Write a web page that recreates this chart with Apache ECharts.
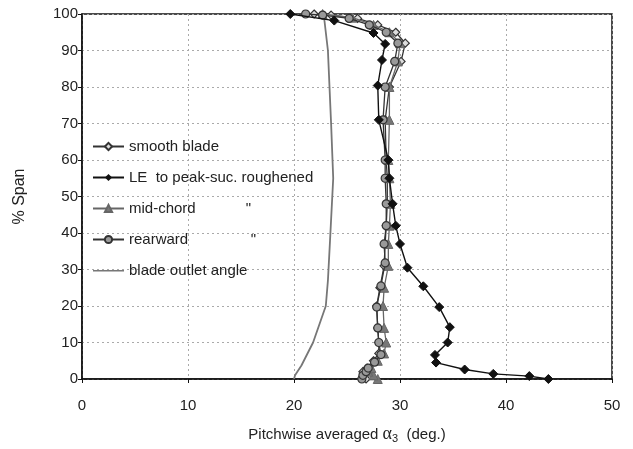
<!DOCTYPE html>
<html><head><meta charset="utf-8">
<script src="https://cdn.jsdelivr.net/npm/echarts@6/dist/echarts.min.js"></script>
<style>html,body{margin:0;padding:0;background:#fff}#c{width:633px;height:449px}</style>
</head><body><div id="c"></div>
<script>
// ---- data (angle in deg., span in %) ----
var xTicks = [0, 10, 20, 30, 40, 50];
var yTicks = [0, 10, 20, 30, 40, 50, 60, 70, 80, 90, 100];

var smoothSpan  = [0, 1, 2, 3, 5, 7, 10, 14, 20, 25, 31, 37, 42, 48, 55, 60, 71, 80, 87, 92, 95, 97, 98.8, 99.7, 100];
var smoothAngle = [26.8, 26.6, 26.5, 26.9, 27.5, 28.0, 28.0, 27.9, 27.8, 28.1, 28.5, 28.6, 28.7, 28.8, 28.8, 28.7, 28.6, 29.0, 30.1, 30.5, 29.6, 27.9, 26.0, 23.5, 21.9];

var leSpan  = [0, 0.8, 1.4, 2.6, 4.5, 6.6, 10, 14.2, 19.7, 25.4, 30.5, 37, 42, 48, 55, 60, 71, 80.4, 87.4, 91.8, 94.8, 98.2, 100];
var leAngle = [44.0, 42.2, 38.8, 36.1, 33.4, 33.3, 34.5, 34.7, 33.7, 32.2, 30.7, 30.0, 29.6, 29.3, 29.0, 28.9, 28.0, 27.9, 28.3, 28.6, 27.5, 23.8, 19.65];

var midSpan  = [0, 1, 2, 3, 5, 7, 10, 14, 20, 25, 31, 37, 42, 48, 55, 60, 71, 80, 87, 92, 95, 97, 99, 100];
var midAngle = [27.9, 27.5, 27.0, 27.3, 27.9, 28.5, 28.7, 28.5, 28.4, 28.5, 28.9, 28.9, 29.0, 29.1, 29.0, 28.9, 29.0, 29.0, 29.8, 30.0, 29.0, 27.5, 25.5, 22.7];

var rearSpan  = [0, 1, 2, 3, 4.6, 6.7, 10, 14, 19.7, 25.5, 31.8, 37, 42, 48, 55, 60, 71, 80, 87, 92, 95, 97, 98.8, 99.7, 100];
var rearAngle = [26.4, 26.5, 26.8, 27.0, 27.6, 28.2, 28.0, 27.9, 27.8, 28.2, 28.6, 28.5, 28.7, 28.7, 28.6, 28.6, 28.4, 28.6, 29.5, 29.8, 28.7, 27.1, 25.2, 22.7, 21.1];

var outletSpan  = [0, 1, 3.7, 10, 20, 27, 38, 55, 70, 90, 100];
var outletAngle = [20.0, 20.1, 20.7, 21.8, 23.0, 23.2, 23.4, 23.7, 23.5, 23.2, 22.8];

var names = ['smooth blade', 'LE  to peak-suc. roughened', 'mid-chord', 'rearward', 'blade outlet angle'];

function pairs(a, s) { return a.map(function (v, i) { return [v, s[i]]; }); }

var lineIcon = 'path://M0,0L0.05,0L0.05,0.05Z M0,4L32,4L32,5.6L0,5.6Z M0,9L0.05,9L0.05,8.95Z';

var chart = echarts.init(document.getElementById('c'), null, {renderer: 'canvas'});
var FONT = 'Liberation Sans';
chart.setOption({
  animation: false,
  backgroundColor: '#fff',
  grid: {left: 82, right: 21, top: 14, bottom: 66, show: true, borderColor: '#111', borderWidth: 1.5, backgroundColor: 'transparent'},
  legend: {
    orient: 'vertical', left: 87, top: 134, itemGap: 16, itemWidth: 31, itemHeight: 9,
    textStyle: {fontFamily: FONT, fontSize: 15, color: '#222'},
    data: [names[0], names[1], names[2], names[3], {name: names[4], icon: lineIcon, itemStyle: {color: '#777'}}],
    formatter: function (n) {
      if (n === 'mid-chord') return 'mid-chord            "';
      if (n === 'rearward') return 'rearward               "';
      return n;
    }
  },
  xAxis: {
    type: 'value', min: 0, max: 50, interval: 10,
    name: 'Pitchwise averaged {g|α}{s|3}  (deg.)', nameLocation: 'middle', nameGap: 46,
    nameTextStyle: {fontFamily: FONT, fontSize: 15, color: '#222',
      rich: {g: {fontFamily: 'Liberation Serif', fontSize: 18, color: '#222'},
             s: {fontFamily: FONT, fontSize: 11, color: '#222', padding: [8, 0, 0, 0]}}},
    axisLine: {show: true, lineStyle: {color: '#111', width: 1.5}},
    axisTick: {show: true, length: 4, lineStyle: {color: '#111'}},
    axisLabel: {fontFamily: FONT, fontSize: 15, color: '#222', margin: 19},
    splitLine: {show: true, lineStyle: {color: '#aaa', type: [2, 3], width: 1}}
  },
  yAxis: {
    type: 'value', min: 0, max: 100, interval: 10,
    name: '% Span', nameLocation: 'middle', nameGap: 54, nameRotate: 90,
    nameTextStyle: {fontFamily: FONT, fontSize: 16, color: '#222'},
    axisLine: {show: true, lineStyle: {color: '#111', width: 1.5}},
    axisTick: {show: true, length: 4, lineStyle: {color: '#111'}},
    axisLabel: {fontFamily: FONT, fontSize: 15, color: '#222', margin: 4},
    splitLine: {show: true, lineStyle: {color: '#aaa', type: [2, 3], width: 1}}
  },
  series: [
    {name: names[4], type: 'line', data: pairs(outletAngle, outletSpan), showSymbol: false, symbol: 'none',
     lineStyle: {color: '#777', width: 1.8}, itemStyle: {color: '#777'}, z: 1},
    {name: names[0], type: 'line', data: pairs(smoothAngle, smoothSpan), symbol: 'diamond', symbolSize: 8,
     lineStyle: {color: '#333', width: 1.3}, itemStyle: {color: '#ddd', borderColor: '#333', borderWidth: 1.2}, z: 2},
    {name: names[2], type: 'line', data: pairs(midAngle, midSpan), symbol: 'triangle', symbolSize: 9,
     lineStyle: {color: '#666', width: 1.3}, itemStyle: {color: '#777', borderColor: '#666', borderWidth: 1}, z: 3},
    {name: names[3], type: 'line', data: pairs(rearAngle, rearSpan), symbol: 'circle', symbolSize: 8,
     lineStyle: {color: '#333', width: 1.3}, itemStyle: {color: '#999', borderColor: '#333', borderWidth: 1.2}, z: 4},
    {name: names[1], type: 'line', data: pairs(leAngle, leSpan), symbol: 'diamond', symbolSize: 9,
     lineStyle: {color: '#111', width: 1.4}, itemStyle: {color: '#111', borderColor: '#111'}, z: 5}
  ]
});
</script></body></html>
